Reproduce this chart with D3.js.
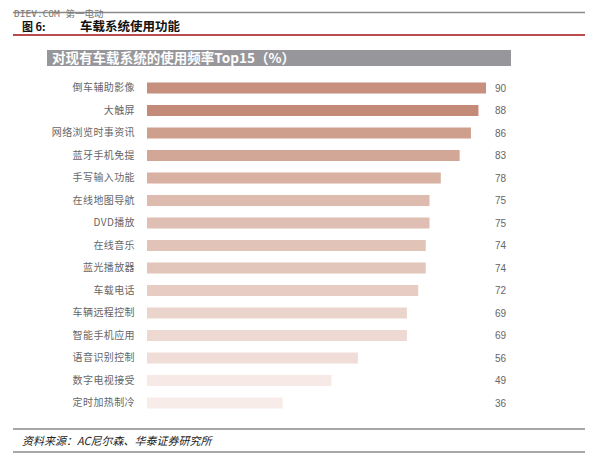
<!DOCTYPE html>
<html><head><meta charset="utf-8">
<script src="https://cdn.jsdelivr.net/npm/d3@7"></script>
<style>html,body{margin:0;padding:0;background:#fff}svg{display:block}</style>
</head><body>
<svg id="c" width="600" height="464"></svg>
<script>
const categories = ["倒车辅助影像","大触屏","网络浏览时事资讯","蓝牙手机免提","手写输入功能","在线地图导航","DVD播放","在线音乐","蓝光播放器","车载电话","车辆远程控制","智能手机应用","语音识别控制","数字电视接受","定时加热制冷"];
const values = [90,88,86,83,78,75,75,74,74,72,69,69,56,49,36];
const barColors = ["#c68f7e","#c48a78","#cf9f8e","#d3a797","#d8b1a3","#ddbbaf","#dfbfb4","#e2c3b8","#e3c6bb","#e6ccc2","#ebd4cb","#eed9d2","#f0ddd7","#f7eae6","#f8ece8"];
const headerLabel = "图 6:";
const headerTitle = "车载系统使用功能";
const chartTitle = "对现有车载系统的使用频率Top15（%）";
const sourceText = "资料来源：AC尼尔森、华泰证券研究所";
const watermark = "DIEV.COM 第一电动";

const svg = d3.select("#c");
const cjk = "'Noto Sans CJK SC','Noto Sans',sans-serif";

// header lines
svg.append("line").attr("x1",13).attr("x2",585).attr("y1",12.5).attr("y2",12.5).attr("stroke","#8a8a8a").attr("stroke-width",1.5);
svg.append("text").attr("x",14).attr("y",17).attr("font-family","'DejaVu Sans Mono','Noto Sans CJK SC',monospace").attr("font-size",9.5).attr("fill","#777").text(watermark);
svg.append("text").attr("x",22).attr("y",30.5).attr("font-family",cjk).attr("font-weight","bold").attr("font-size",11).attr("fill","#111").text(headerLabel);
svg.append("text").attr("x",80).attr("y",30.5).attr("font-family","'Noto Sans CJK SC',serif").attr("font-weight","bold").attr("font-size",12.5).attr("fill","#111").text(headerTitle);
svg.append("line").attr("x1",13).attr("x2",585).attr("y1",35).attr("y2",35).attr("stroke","#a01010").attr("stroke-width",1.5);

// title box
svg.append("rect").attr("x",47).attr("y",50).attr("width",464).attr("height",16).attr("fill","#97979b");
svg.append("text").attr("x",52).attr("y",63).attr("font-family",cjk).attr("font-weight","bold").attr("font-size",13.5).attr("fill","#fff").attr("textLength",243).text(chartTitle);

// scales
const x = d3.scaleLinear().domain([0,90]).range([147,486]);
const y = d3.scaleBand().domain(categories).range([76.75,414.25]).paddingInner(0.51).paddingOuter(0.255);

const g = svg.append("g");
g.selectAll("rect.bar").data(values).join("rect").attr("class","bar")
  .attr("x",x(0)).attr("y",(d,i)=>y(categories[i]))
  .attr("width",d=>x(d)-x(0)).attr("height",y.bandwidth())
  .attr("fill",(d,i)=>barColors[i]);

// category axis labels via d3 axis
const yAxis = d3.axisLeft(y).tickSize(0).tickPadding(0);
const ga = svg.append("g").attr("transform","translate(135,0)").call(yAxis);
ga.select(".domain").remove();
ga.selectAll("text").attr("font-family",cjk).attr("font-size",10).attr("fill","#666").attr("letter-spacing",0.4);

// value labels
g.selectAll("text.val").data(values).join("text").attr("class","val")
  .attr("x",495).attr("y",(d,i)=>y(categories[i])+y.bandwidth()/2)
  .attr("dy","0.35em").attr("font-family","'Liberation Sans',Arial,sans-serif").attr("font-size",10)
  .attr("fill","#666").text(d=>d);

// footer
svg.append("line").attr("x1",13).attr("x2",585).attr("y1",429).attr("y2",429).attr("stroke","#8a8a8a").attr("stroke-width",1.5);
svg.append("text").attr("x",22).attr("y",445).attr("font-family","'Noto Sans CJK SC',serif").attr("font-style","italic").attr("font-size",11).attr("fill","#222").text(sourceText);
svg.append("line").attr("x1",13).attr("x2",585).attr("y1",452).attr("y2",452).attr("stroke","#8a8a8a").attr("stroke-width",1.5);
</script>
</body></html>
